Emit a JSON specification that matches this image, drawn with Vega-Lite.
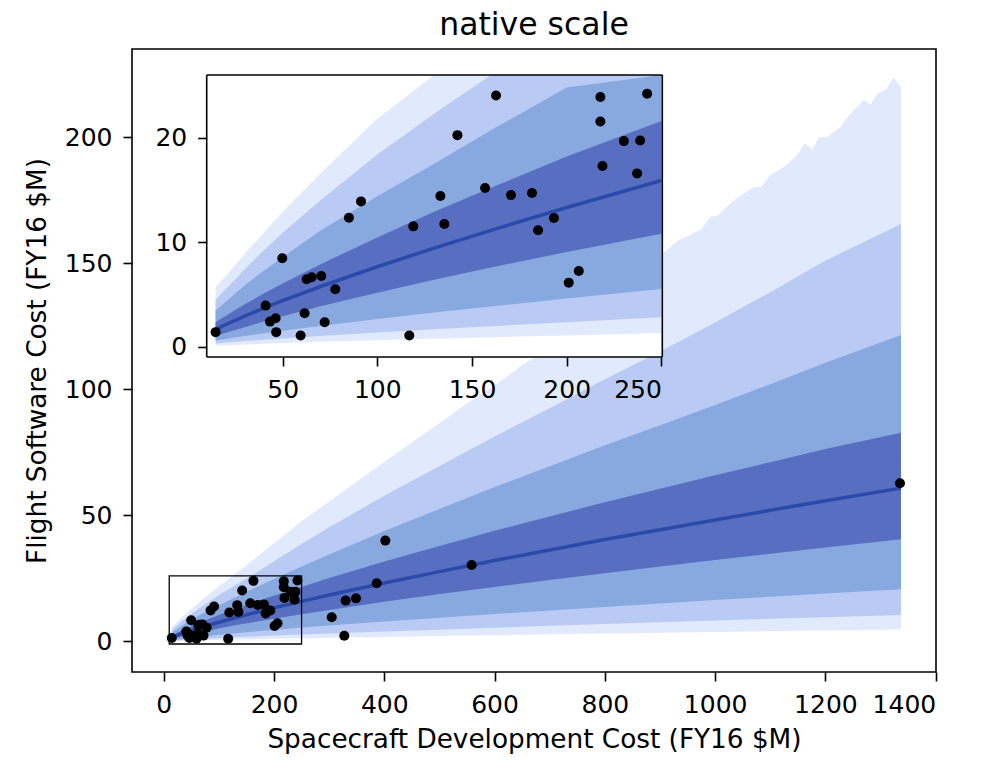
{
  "$schema": "https://vega.github.io/schema/vega-lite/v6.json",
  "autosize": "none",
  "width": 804,
  "height": 623,
  "padding": {"left": 132, "top": 49, "right": 49, "bottom": 93},
  "background": "white",
  "title": {"text": "native scale", "fontSize": 31.5, "font": "DejaVu Sans", "fontWeight": "normal", "color": "black", "anchor": "middle", "offset": 8},
  "config": {
    "view": {"stroke": "black", "strokeWidth": 1.6},
    "axis": {"labelFont": "DejaVu Sans", "labelFontSize": 25, "labelColor": "black", "titleFont": "DejaVu Sans", "titleFontSize": 26.3, "titleFontWeight": "normal", "titleColor": "black", "tickColor": "black", "tickSize": 9, "tickWidth": 1.6, "domain": false, "grid": false, "labelPadding": 11, "format": "d"}
  },
  "datasets": {
    "b4": [
      {"x": 14.6, "y": 0.07, "y2": 5.75}, {"x": 20, "y": 0.12, "y2": 6.75}, {"x": 30, "y": 0.19, "y2": 8.9}, {"x": 40, "y": 0.26, "y2": 10.9}, {"x": 50, "y": 0.33, "y2": 12.9}, {"x": 70, "y": 0.45, "y2": 16.6}, {"x": 100, "y": 0.61, "y2": 21.8}, {"x": 130, "y": 0.75, "y2": 26.9}, {"x": 160, "y": 0.89, "y2": 31.9}, {"x": 200, "y": 1.06, "y2": 38.9}, {"x": 250, "y": 1.3, "y2": 47.7}, {"x": 300, "y": 1.47, "y2": 55.5}, {"x": 350, "y": 1.64, "y2": 63.4}, {"x": 400, "y": 1.8, "y2": 71.2}, {"x": 450, "y": 1.98, "y2": 79.0}, {"x": 500, "y": 2.15, "y2": 86.5}, {"x": 550, "y": 2.35, "y2": 94.5}, {"x": 600, "y": 2.5, "y2": 101.5}, {"x": 650, "y": 2.7, "y2": 109.5}, {"x": 700, "y": 2.85, "y2": 116.5}, {"x": 800, "y": 3.15, "y2": 134}, {"x": 909, "y": 3.5, "y2": 154.6}, {"x": 934.5, "y": 3.6, "y2": 159.2}, {"x": 974, "y": 3.7, "y2": 163.2}, {"x": 992, "y": 3.8, "y2": 168.4}, {"x": 1004, "y": 3.8, "y2": 168.8}, {"x": 1031, "y": 3.9, "y2": 174.4}, {"x": 1071, "y": 4.0, "y2": 180.3}, {"x": 1083, "y": 4.05, "y2": 180.1}, {"x": 1098, "y": 4.1, "y2": 184.6}, {"x": 1125, "y": 4.2, "y2": 188.2}, {"x": 1149, "y": 4.25, "y2": 192.9}, {"x": 1162.5, "y": 4.3, "y2": 197.5}, {"x": 1176.5, "y": 4.35, "y2": 195.1}, {"x": 1188, "y": 4.35, "y2": 199.9}, {"x": 1204, "y": 4.4, "y2": 200.1}, {"x": 1228, "y": 4.5, "y2": 204.1}, {"x": 1243, "y": 4.5, "y2": 208.7}, {"x": 1270, "y": 4.6, "y2": 214.7}, {"x": 1282, "y": 4.65, "y2": 212.9}, {"x": 1294, "y": 4.7, "y2": 217.3}, {"x": 1309, "y": 4.7, "y2": 218.6}, {"x": 1323, "y": 4.75, "y2": 223.5}, {"x": 1337, "y": 4.8, "y2": 219.9}
    ],
    "b3": [
      {"x": 14.6, "y": 0.30, "y2": 4.5}, {"x": 20, "y": 0.38, "y2": 5.5}, {"x": 30, "y": 0.52, "y2": 7.4}, {"x": 40, "y": 0.65, "y2": 9.2}, {"x": 50, "y": 0.77, "y2": 10.9}, {"x": 70, "y": 1.0, "y2": 14.0}, {"x": 100, "y": 1.34, "y2": 18.4}, {"x": 130, "y": 1.65, "y2": 22.3}, {"x": 160, "y": 1.95, "y2": 26.2}, {"x": 200, "y": 2.33, "y2": 31.8}, {"x": 250, "y": 2.8, "y2": 38.6}, {"x": 300, "y": 3.2, "y2": 45.3}, {"x": 400, "y": 4.0, "y2": 57.8}, {"x": 500, "y": 4.7, "y2": 69.6}, {"x": 600, "y": 5.45, "y2": 81.3}, {"x": 700, "y": 6.2, "y2": 92.5}, {"x": 800, "y": 6.9, "y2": 104}, {"x": 900, "y": 7.6, "y2": 115}, {"x": 1000, "y": 8.3, "y2": 126.5}, {"x": 1100, "y": 9.0, "y2": 138.5}, {"x": 1200, "y": 9.6, "y2": 151}, {"x": 1337, "y": 10.5, "y2": 165.5}
    ],
    "b2": [
      {"x": 14.6, "y": 0.57, "y2": 3.45}, {"x": 20, "y": 0.73, "y2": 4.3}, {"x": 30, "y": 1.0, "y2": 5.86}, {"x": 40, "y": 1.27, "y2": 7.26}, {"x": 50, "y": 1.51, "y2": 8.56}, {"x": 70, "y": 1.98, "y2": 11.1}, {"x": 100, "y": 2.64, "y2": 14.4}, {"x": 130, "y": 3.25, "y2": 17.5}, {"x": 160, "y": 3.84, "y2": 20.7}, {"x": 200, "y": 4.59, "y2": 24.8}, {"x": 250, "y": 5.5, "y2": 29.7}, {"x": 300, "y": 6.35, "y2": 34.5}, {"x": 400, "y": 7.95, "y2": 43.8}, {"x": 500, "y": 9.45, "y2": 52.5}, {"x": 600, "y": 10.9, "y2": 61.2}, {"x": 700, "y": 12.3, "y2": 69.5}, {"x": 800, "y": 13.7, "y2": 77.8}, {"x": 900, "y": 15.1, "y2": 85.7}, {"x": 1000, "y": 16.4, "y2": 93.8}, {"x": 1100, "y": 17.7, "y2": 102}, {"x": 1200, "y": 19.0, "y2": 110.5}, {"x": 1337, "y": 20.7, "y2": 121.5}
    ],
    "b1": [
      {"x": 14.6, "y": 0.98, "y2": 2.33}, {"x": 20, "y": 1.32, "y2": 2.96}, {"x": 30, "y": 1.86, "y2": 4.06}, {"x": 40, "y": 2.39, "y2": 5.07}, {"x": 50, "y": 2.90, "y2": 6.04}, {"x": 70, "y": 3.85, "y2": 7.88}, {"x": 100, "y": 5.16, "y2": 10.45}, {"x": 130, "y": 6.4, "y2": 12.9}, {"x": 160, "y": 7.57, "y2": 15.2}, {"x": 200, "y": 9.05, "y2": 18.2}, {"x": 250, "y": 10.8, "y2": 21.6}, {"x": 300, "y": 12.5, "y2": 25.2}, {"x": 400, "y": 15.8, "y2": 31.7}, {"x": 500, "y": 18.8, "y2": 37.9}, {"x": 600, "y": 21.6, "y2": 43.9}, {"x": 700, "y": 24.4, "y2": 49.6}, {"x": 800, "y": 27.1, "y2": 55.2}, {"x": 900, "y": 29.7, "y2": 60.6}, {"x": 1000, "y": 32.3, "y2": 65.9}, {"x": 1100, "y": 34.8, "y2": 71.1}, {"x": 1200, "y": 37.3, "y2": 76.3}, {"x": 1337, "y": 40.5, "y2": 82.8}
    ],
    "med": [
      {"x": 14.6, "y": 1.64}, {"x": 20, "y": 2.11}, {"x": 30, "y": 2.92}, {"x": 40, "y": 3.67}, {"x": 50, "y": 4.39}, {"x": 70, "y": 5.75}, {"x": 100, "y": 7.64}, {"x": 130, "y": 9.43}, {"x": 160, "y": 11.13}, {"x": 200, "y": 13.31}, {"x": 250, "y": 15.9}, {"x": 300, "y": 18.41}, {"x": 400, "y": 23.2}, {"x": 500, "y": 27.7}, {"x": 600, "y": 32.1}, {"x": 700, "y": 36.3}, {"x": 800, "y": 40.4}, {"x": 900, "y": 44.3}, {"x": 1000, "y": 48.2}, {"x": 1100, "y": 52.0}, {"x": 1200, "y": 55.8}, {"x": 1337, "y": 60.8}
    ],
    "pts": [
      {"x": 14.6, "y": 1.38}, {"x": 41.0, "y": 3.92}, {"x": 43.3, "y": 2.39}, {"x": 46.3, "y": 2.71}, {"x": 46.6, "y": 1.38}, {"x": 49.8, "y": 8.45}, {"x": 59.5, "y": 1.05}, {"x": 61.6, "y": 3.19}, {"x": 62.7, "y": 6.44}, {"x": 65.3, "y": 6.63}, {"x": 70.4, "y": 6.76}, {"x": 72.2, "y": 2.33}, {"x": 77.8, "y": 5.49}, {"x": 85.0, "y": 12.33}, {"x": 91.4, "y": 13.9}, {"x": 116.9, "y": 1.05}, {"x": 119.0, "y": 11.51}, {"x": 133.3, "y": 14.41}, {"x": 135.4, "y": 11.73}, {"x": 142.3, "y": 20.24}, {"x": 156.9, "y": 15.18}, {"x": 162.7, "y": 24.04}, {"x": 170.6, "y": 14.5}, {"x": 181.7, "y": 14.7}, {"x": 184.9, "y": 11.13}, {"x": 193.3, "y": 12.3}, {"x": 201.1, "y": 6.12}, {"x": 206.4, "y": 7.24}, {"x": 217.8, "y": 23.9}, {"x": 217.8, "y": 21.55}, {"x": 218.9, "y": 17.28}, {"x": 230.2, "y": 19.67}, {"x": 237.2, "y": 16.58}, {"x": 238.8, "y": 19.73}, {"x": 242.5, "y": 24.2}, {"x": 304.7, "y": 9.6}, {"x": 327.5, "y": 2.3}, {"x": 330.0, "y": 16.2}, {"x": 348.7, "y": 17.1}, {"x": 386.3, "y": 23.1}, {"x": 401.9, "y": 40.0}, {"x": 558.5, "y": 30.3}, {"x": 1335.2, "y": 62.7}
    ],
    "zoombox": [{"x": 10, "x2": 250, "y": -1, "y2": 26}],
    "insetbox": [{"x": 9.9, "x2": 250.5, "y": -1, "y2": 26}]
  },
  "layer": [
    {
      "encoding": {
        "x": {"field": "x", "type": "quantitative", "scale": {"domain": [-57.5, 1400.5], "nice": false, "zero": false}, "axis": {"title": "Spacecraft Development Cost (FY16 $M)", "values": [0, 200, 400, 600, 800, 1000, 1200, 1400], "orient": "bottom", "titlePadding": 9}},
        "y": {"field": "y", "type": "quantitative", "scale": {"domain": [-12.1, 234.9], "nice": false, "zero": false}, "axis": {"title": "Flight Software Cost (FY16 $M)", "values": [0, 50, 100, 150, 200], "orient": "left", "titlePadding": 13}}
      },
      "layer": [
        {"data": {"name": "b4"}, "mark": {"type": "area", "color": "#e1eafc", "opacity": 1}, "encoding": {"y2": {"field": "y2"}}},
        {"data": {"name": "b3"}, "mark": {"type": "area", "color": "#b9cbf5", "opacity": 1}, "encoding": {"y2": {"field": "y2"}}},
        {"data": {"name": "b2"}, "mark": {"type": "area", "color": "#88a9e0", "opacity": 1}, "encoding": {"y2": {"field": "y2"}}},
        {"data": {"name": "b1"}, "mark": {"type": "area", "color": "#586fc1", "opacity": 1}, "encoding": {"y2": {"field": "y2"}}},
        {"data": {"name": "med"}, "mark": {"type": "line", "color": "#2a4aa9", "strokeWidth": 3.5}},
        {"data": {"name": "zoombox"}, "mark": {"type": "rect", "fill": "transparent", "stroke": "black", "strokeWidth": 1.3}, "encoding": {"x2": {"field": "x2"}, "y2": {"field": "y2"}}},
        {"data": {"name": "pts"}, "mark": {"type": "circle", "color": "black", "opacity": 1, "size": 100}}
      ]
    },
    {
      "encoding": {
        "x": {"field": "x", "type": "quantitative", "scale": {"domain": [9.9, 250.5], "range": [74.7, 530.3], "nice": false, "zero": false}, "axis": {"title": null, "values": [50, 100, 150, 200, 250], "orient": "bottom", "offset": -315, "zindex": 1}},
        "y": {"field": "y", "type": "quantitative", "scale": {"domain": [-1, 26], "range": [308, 26], "nice": false, "zero": false, "clamp": true}, "axis": {"title": null, "values": [0, 10, 20], "orient": "left", "offset": -74.7, "zindex": 1}}
      },
      "layer": [
        {"data": {"name": "insetbox"}, "mark": {"type": "rect", "fill": "white", "strokeWidth": 0}, "encoding": {"x2": {"field": "x2"}, "y2": {"field": "y2"}}},
        {"data": {"name": "b4"}, "transform": [{"filter": "datum.x <= 251"}], "mark": {"type": "area", "color": "#e1eafc", "opacity": 1}, "encoding": {"y2": {"field": "y2"}}},
        {"data": {"name": "b3"}, "transform": [{"filter": "datum.x <= 251"}], "mark": {"type": "area", "color": "#b9cbf5", "opacity": 1}, "encoding": {"y2": {"field": "y2"}}},
        {"data": {"name": "b2"}, "transform": [{"filter": "datum.x <= 251"}], "mark": {"type": "area", "color": "#88a9e0", "opacity": 1}, "encoding": {"y2": {"field": "y2"}}},
        {"data": {"name": "b1"}, "transform": [{"filter": "datum.x <= 251"}], "mark": {"type": "area", "color": "#586fc1", "opacity": 1}, "encoding": {"y2": {"field": "y2"}}},
        {"data": {"name": "med"}, "transform": [{"filter": "datum.x <= 251"}], "mark": {"type": "line", "color": "#2a4aa9", "strokeWidth": 3.5}},
        {"data": {"name": "pts"}, "transform": [{"filter": "datum.x <= 251 && datum.y <= 26"}], "mark": {"type": "circle", "color": "black", "opacity": 1, "size": 100}},
        {"data": {"name": "insetbox"}, "mark": {"type": "rule", "color": "black", "strokeWidth": 1.6}, "encoding": {"x2": {"field": "x2"}, "y": {"field": "y"}}},
        {"data": {"name": "insetbox"}, "mark": {"type": "rule", "color": "black", "strokeWidth": 1.6}, "encoding": {"x2": {"field": "x2"}, "y": {"field": "y2"}}},
        {"data": {"name": "insetbox"}, "mark": {"type": "rule", "color": "black", "strokeWidth": 1.6}, "encoding": {"x": {"field": "x"}, "y2": {"field": "y2"}}},
        {"data": {"name": "insetbox"}, "mark": {"type": "rule", "color": "black", "strokeWidth": 1.6}, "encoding": {"x": {"field": "x2"}, "y2": {"field": "y2"}}}
      ]
    }
  ],
  "resolve": {"scale": {"x": "independent", "y": "independent"}, "axis": {"x": "independent", "y": "independent"}}
}
